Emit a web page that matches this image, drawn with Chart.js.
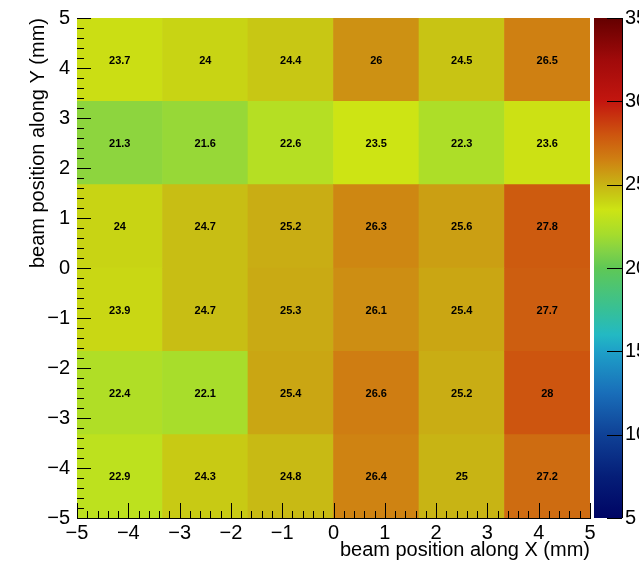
<!DOCTYPE html>
<html>
<head>
<meta charset="utf-8">
<script src="https://cdn.jsdelivr.net/npm/chart.js@4.4.0/dist/chart.umd.min.js"></script>
<style>
  html, body { margin: 0; padding: 0; background: #fff; }
  #wrap { width: 639px; height: 565px; }
</style>
</head>
<body>
<div id="wrap"><canvas id="map"></canvas></div>
<script>
// bin edges of the 6x6 beam scan (mm)
const xEdges = [-5, -10 / 3, -5 / 3, 0, 5 / 3, 10 / 3, 5];
const yEdges = [-5, -10 / 3, -5 / 3, 0, 5 / 3, 10 / 3, 5];

// bin contents, one list per Y bin, bottom row first
const rowY1 = [22.9, 24.3, 24.8, 26.4, 25, 27.2];
const rowY2 = [22.4, 22.1, 25.4, 26.6, 25.2, 28];
const rowY3 = [23.9, 24.7, 25.3, 26.1, 25.4, 27.7];
const rowY4 = [24, 24.7, 25.2, 26.3, 25.6, 27.8];
const rowY5 = [21.3, 21.6, 22.6, 23.5, 22.3, 23.6];
const rowY6 = [23.7, 24, 24.4, 26, 24.5, 26.5];
const rows = [rowY1, rowY2, rowY3, rowY4, rowY5, rowY6];

// colour axis range and labels
const zMin = 5;
const zMax = 35;
const zTicks = [5, 10, 15, 20, 25, 30, 35];

// rainbow palette, sampled off the colour bar: [z, r, g, b]
const paletteStops = [
  [5, 0, 5, 100],
  [7.5, 5, 30, 120],
  [10, 15, 65, 150],
  [12.5, 25, 110, 185],
  [15, 30, 160, 200],
  [16, 35, 185, 195],
  [17.5, 55, 192, 150],
  [20, 95, 200, 85],
  [21, 130, 210, 70],
  [22, 165, 220, 45],
  [23.5, 205, 228, 20],
  [24, 200, 212, 20],
  [25, 200, 180, 20],
  [26.5, 207, 128, 18],
  [28, 205, 85, 15],
  [30, 195, 22, 15],
  [32.5, 160, 10, 10],
  [35, 100, 0, 0]
];

const FONT = '"Liberation Sans", Arial, Helvetica, sans-serif';

function paletteColor(v) {
  if (v <= paletteStops[0][0]) return rgb(paletteStops[0]);
  for (let i = 1; i < paletteStops.length; i++) {
    const a = paletteStops[i - 1], b = paletteStops[i];
    if (v <= b[0]) {
      const t = (v - a[0]) / (b[0] - a[0]);
      return `rgb(${Math.round(a[1] + t * (b[1] - a[1]))}, ${Math.round(a[2] + t * (b[2] - a[2]))}, ${Math.round(a[3] + t * (b[3] - a[3]))})`;
    }
  }
  return rgb(paletteStops[paletteStops.length - 1]);
}

function rgb(s) {
  return `rgb(${s[1]}, ${s[2]}, ${s[3]})`;
}

function minusLabel(v) {
  return v < 0 ? '\u2212' + Math.abs(v) : String(v);
}

// each Y bin is a dataset of floating bars spanning its edges
const datasets = rows.map((vals, r) => ({
  xAxisID: 'xbin',
  data: vals.map((v, c) => ({ x: (xEdges[c] + xEdges[c + 1]) / 2, y: [yEdges[r], yEdges[r + 1]] })),
  backgroundColor: vals.map(paletteColor),
  borderWidth: 0,
  barPercentage: 1,
  categoryPercentage: 1,
  grouped: false
}));

// bin texts, inner ticks and the colour bar
const histDecor = {
  id: 'histDecor',
  afterDatasetsDraw(chart) {
    const ctx = chart.ctx;
    ctx.save();
    ctx.font = 'bold 11px ' + FONT;
    ctx.fillStyle = '#000';
    ctx.textAlign = 'center';
    ctx.textBaseline = 'middle';
    chart.data.datasets.forEach((ds, r) => {
      chart.getDatasetMeta(r).data.forEach((bar, c) => {
        ctx.fillText(String(rows[r][c]), bar.x, (bar.y + bar.base) / 2 + 1);
      });
    });
    ctx.restore();
  },
  afterDraw(chart) {
    const ctx = chart.ctx;
    const xs = chart.scales.x, ys = chart.scales.y, zs = chart.scales.z;
    const area = chart.chartArea;

    ctx.save();
    ctx.strokeStyle = '#000';
    ctx.lineWidth = 1;
    ctx.beginPath();
    for (let i = -25; i <= 25; i++) {
      const major = i % 5 === 0;
      const px = Math.round(xs.getPixelForValue(i / 5)) + 0.5;
      ctx.moveTo(px, area.bottom);
      ctx.lineTo(px, area.bottom - (major ? 15 : 7));
      const py = Math.round(ys.getPixelForValue(i / 5)) + 0.5;
      ctx.moveTo(area.left, py);
      ctx.lineTo(area.left + (major ? 14 : 7), py);
    }
    ctx.stroke();

    // colour bar
    const barL = zs.left + 4, barR = zs.left + 32;
    const top = zs.getPixelForValue(zMax), bottom = zs.getPixelForValue(zMin);
    const grad = ctx.createLinearGradient(0, bottom, 0, top);
    paletteStops.forEach(s => grad.addColorStop((s[0] - zMin) / (zMax - zMin), rgb(s)));
    ctx.fillStyle = grad;
    ctx.fillRect(barL, top, barR - barL, bottom - top);

    ctx.beginPath();
    ctx.moveTo(barR + 0.5, top);
    ctx.lineTo(barR + 0.5, bottom);
    zTicks.forEach(v => {
      const py = Math.round(zs.getPixelForValue(v)) + 0.5;
      ctx.moveTo(barR, py);
      ctx.lineTo(barR - 15, py);
    });
    ctx.stroke();
    ctx.restore();
  }
};

new Chart(document.getElementById('map'), {
  type: 'bar',
  data: { datasets: datasets },
  options: {
    responsive: true,
    maintainAspectRatio: false,
    animation: false,
    layout: { padding: { top: 18, left: 0, right: 0, bottom: 0 } },
    plugins: {
      legend: { display: false },
      tooltip: { enabled: false }
    },
    scales: {
      // hidden axis carrying the bins, one tick per bin edge
      xbin: {
        type: 'linear',
        display: false,
        min: -5,
        max: 5,
        offset: false,
        ticks: { count: xEdges.length }
      },
      x: {
        type: 'linear',
        min: -5,
        max: 5,
        offset: false,
        grid: { display: false, drawTicks: true, tickLength: 3 },
        border: { display: true, color: '#000', width: 1 },
        ticks: {
          stepSize: 1,
          padding: 0,
          color: '#000',
          font: { family: FONT, size: 20 },
          maxRotation: 0,
          callback: minusLabel
        },
        title: {
          display: true,
          text: 'beam position along X (mm)',
          align: 'end',
          color: '#000',
          font: { family: FONT, size: 20 },
          padding: { top: 0, bottom: 3 }
        },
        afterFit: s => { s.height = 47; }
      },
      y: {
        type: 'linear',
        min: -5,
        max: 5,
        grid: { display: false, drawTicks: true, tickLength: 7 },
        border: { display: true, color: '#000', width: 1 },
        ticks: {
          stepSize: 1,
          padding: 0,
          color: '#000',
          font: { family: FONT, size: 20 },
          callback: minusLabel
        },
        title: {
          display: true,
          text: 'beam position along Y (mm)',
          align: 'end',
          color: '#000',
          font: { family: FONT, size: 20 },
          padding: { top: 26, bottom: 0 }
        },
        afterFit: s => { s.width = 77; }
      },
      z: {
        type: 'linear',
        position: 'right',
        min: zMin,
        max: zMax,
        grid: { display: false, drawTicks: true, tickLength: 35 },
        border: { display: false },
        ticks: {
          stepSize: 5,
          padding: 0,
          color: '#000',
          font: { family: FONT, size: 20 }
        },
        afterFit: s => { s.width = 49; }
      }
    }
  },
  plugins: [histDecor]
});
</script>
</body>
</html>
